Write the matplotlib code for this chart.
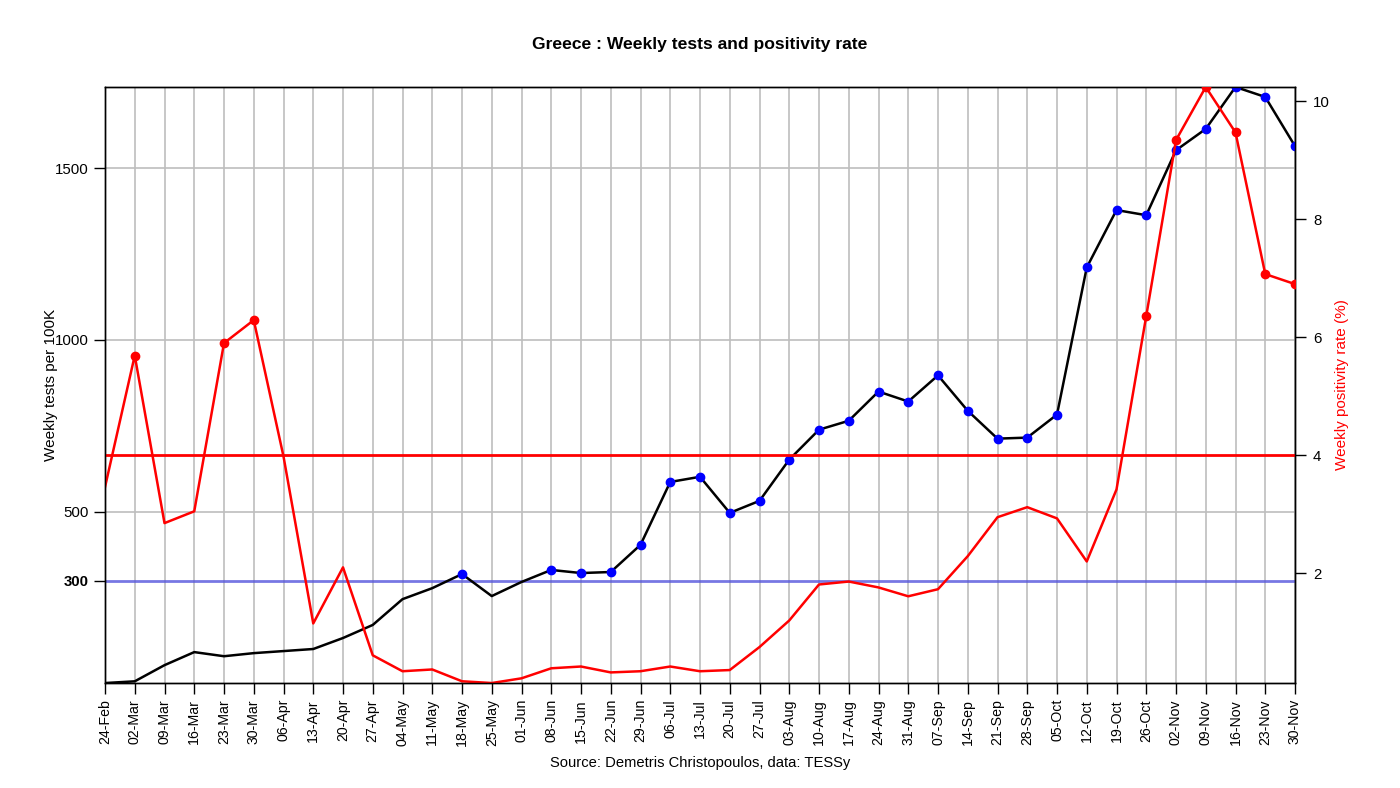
import numpy as np
import matplotlib.pyplot as plt

plt.rcParams['font.family'] = ['Liberation Sans', 'DejaVu Sans']

weeks = ["24-Feb", "02-Mar", "09-Mar", "16-Mar", "23-Mar", "30-Mar", "06-Apr", "13-Apr",
         "20-Apr", "27-Apr", "04-May", "11-May", "18-May", "25-May", "01-Jun", "08-Jun",
         "15-Jun", "22-Jun", "29-Jun", "06-Jul", "13-Jul", "20-Jul", "27-Jul", "03-Aug",
         "10-Aug", "17-Aug", "24-Aug", "31-Aug", "07-Sep", "14-Sep", "21-Sep", "28-Sep",
         "05-Oct", "12-Oct", "19-Oct", "26-Oct", "02-Nov", "09-Nov", "16-Nov", "23-Nov",
         "30-Nov"]

tests = [2, 7, 54, 92, 80, 89, 95, 101, 133, 171, 246, 278, 319, 255, 296, 331,
         322, 325, 404, 587, 602, 497, 532, 652, 739, 765, 850, 821, 897, 794, 713,
         716, 783, 1211, 1378, 1363, 1552, 1614, 1736, 1707, 1564]

positivity = [3.46, 5.69, 2.85, 3.05, 5.90, 6.29, 3.98, 1.15, 2.10, 0.61, 0.34,
              0.37, 0.17, 0.14, 0.22, 0.39, 0.42, 0.32, 0.34, 0.42, 0.34, 0.36,
              0.75, 1.20, 1.81, 1.86, 1.76, 1.61, 1.73, 2.29, 2.95, 3.12, 2.93,
              2.20, 3.42, 6.36, 9.34, 10.24, 9.47, 7.07, 6.90]

tests_limit = 300
pos_limit = 4

x = np.arange(len(weeks))
tests = np.array(tests)
positivity = np.array(positivity)

fig = plt.figure(figsize=(14, 7.88), dpi=100)
ax = fig.add_axes([0.075, 0.1332, 0.85, 0.7564])

# grid
for xi in x:
    ax.axvline(xi, color='#bebebe', lw=1.2, zorder=0)
for yv in [500, 1000, 1500]:
    ax.axhline(yv, color='#bebebe', lw=1.2, zorder=0)

ax.axhline(tests_limit, color='#5555dd', lw=2, alpha=0.8, zorder=1)
ax.plot(x, tests, color='black', lw=1.8, zorder=2)
hi = tests > tests_limit
ax.plot(x[hi], tests[hi], 'o', color='blue', ms=6, zorder=3)

ax.set_xlim(0, len(weeks) - 1)
ax.set_ylim(tests.min(), tests.max())
ax.set_xticks(x)
ax.set_xticklabels(weeks, rotation=90, fontsize=10.2)
ax.set_yticks([300, 500, 1000, 1500])
ax.set_yticklabels(['300', '500', '1000', '1500'], fontsize=10.8)
ax.get_yticklabels()[0].set_fontweight('bold')
ax.tick_params(direction='out', length=8, width=1)
ax.set_ylabel("Weekly tests per 100K", fontsize=11, labelpad=-2)

ax2 = ax.twinx()
ax2.axhline(pos_limit, color='red', lw=2, zorder=1)
ax2.plot(x, positivity, color='red', lw=1.8, zorder=2)
hp = positivity > pos_limit
ax2.plot(x[hp], positivity[hp], 'o', color='red', ms=6, zorder=3)
ax2.set_ylim(positivity.min(), positivity.max())
ax2.set_yticks([2, 4, 6, 8, 10])
ax2.tick_params(direction='out', length=8, width=1, labelsize=10.8, pad=5)
ax2.set_ylabel("Weekly positivity rate (%)", color='red', fontsize=11, labelpad=4)

for a in (ax, ax2):
    for s in a.spines.values():
        s.set_linewidth(1)
        s.set_color('black')

fig.text(0.5, 0.943, "Greece : Weekly tests and positivity rate", ha='center',
         va='center', fontsize=12.6, fontweight='bold')
fig.text(0.5, 0.032, "Source: Demetris Christopoulos, data: TESSy", ha='center',
         va='center', fontsize=10.6)

fig.savefig("out.png", dpi=100)
